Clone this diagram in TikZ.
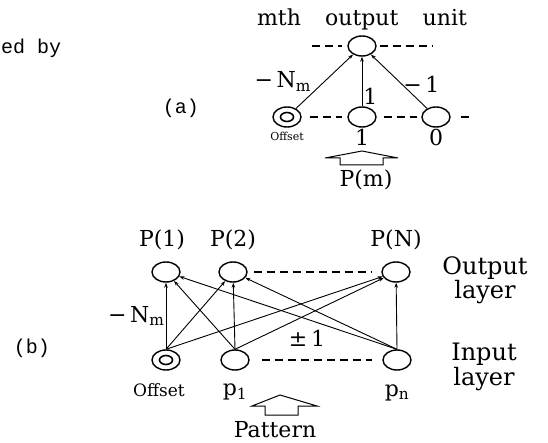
\documentclass[tikz,border=0pt]{standalone}
\usepackage{fontspec}
\setmainfont{DejaVu Serif}
\newfontfamily\typefont{Liberation Mono}
\usetikzlibrary{shapes.geometric, arrows.meta, positioning}

\begin{document}
\begin{tikzpicture}[x=1pt, y=-1pt, >={Stealth[length=5pt, width=3.5pt]},
    every node/.style={font=\fontsize{22}{24}\selectfont, inner sep=1pt},
    unit/.style={ellipse, draw, line width=1.4pt, minimum width=28pt, minimum height=20pt, inner sep=0pt},
    offsetunit/.style={unit, path picture={\draw[line width=1.6pt] (path picture bounding box.center) ellipse (6.5pt and 4.5pt);}},
    link/.style={->, line width=0.9pt},
    dashline/.style={dashed, dash pattern=on 8pt off 5pt, line width=1.2pt},
    fatarrow/.style={draw, line width=1pt, line join=miter},
    typelabel/.style={font=\typefont\fontsize{20}{21}\selectfont}]
    \useasboundingbox (0,0) rectangle (548,443);

    % (a) one output unit
    \node[typelabel, anchor=west, inner sep=0pt] (edby) at (1,48) {ed by};
    \node[typelabel] (alabel) at (181,108) {(a)};

    \node[unit] (atop) at (362,46) {};
    \node[offsetunit] (aoff) at (287,117) {};
    \node[unit] (aone) at (362,117) {};
    \node[unit] (azero) at (436,117) {};
    \node[above=4pt of atop] (acap) {mth\hspace{1.1em}output\hspace{1.1em}unit};

    \coordinate (atl) at (312,46);
    \coordinate (atr) at (433,46);
    \coordinate (abr) at (470,117);
    \draw[dashline, shorten >=5pt] (atl) -- (atop.west);
    \draw[dashline, shorten <=3pt] (atop.east) -- (atr);
    \draw[dashline, shorten <=8pt, shorten >=5pt] (aoff.east) -- (aone.west);
    \draw[dashline, shorten <=7pt, shorten >=4pt] (aone.east) -- (azero.west);
    \draw[dashline, shorten <=10pt] (azero.east) -- (abr);

    \draw[link] (aoff) -- node[left=12pt, pos=0.5] {−\,N\textsubscript{m}} (atop);
    \draw[link] (aone) -- node[right, pos=0.2] {1} (atop);
    \draw[link] (azero) -- node[right, pos=0.45] {−\,1} (atop);

    \node[below=3pt of aoff, font=\fontsize{11}{12}\selectfont] (aofflbl) {Offset};
    \node[below=0pt of aone] (aonelbl) {1};
    \node[below=0pt of azero] (azerolbl) {0};

    \draw[fatarrow] (362,151) -- (325,158) -- (340,158) -- (340,165) -- (383,165) -- (383,158) -- (398,158) -- cycle;
    \node (apm) at (366,180) {P(m)};

    % (b) whole network
    \node[typelabel] (blabel) at (32,348) {(b)};

    \node[unit] (bP1) at (166,272) {};
    \node[unit] (bP2) at (233,272) {};
    \node[unit] (bPN) at (396,272) {};
    \node[offsetunit] (boff) at (166,360) {};
    \node[unit] (bp1) at (235,360) {};
    \node[unit] (bpn) at (397,360) {};

    \node[above=10pt of bP1, xshift=-4pt] (lP1) {P(1)};
    \node[above=10pt of bP2] (lP2) {P(2)};
    \node[above=10pt of bPN] (lPN) {P(N)};

    \draw[dashline, shorten <=6pt, shorten >=10pt] (bP2.east) -- (bPN.west);
    \draw[dashline, shorten <=12pt, shorten >=10pt] (bp1.east) -- (bpn.west);

    \draw[link] (boff.north) -- node[left, pos=0.5] {−\,N\textsubscript{m}} (bP1);
    \draw[link] (boff.north) -- (bP2);
    \draw[link] (boff.north) -- (bPN);
    \draw[link] (bp1.north) -- (bP1);
    \draw[link] (bp1.north) -- (bP2);
    \draw[link] (bp1.north) -- (bPN);
    \draw[link] (bpn.north) -- (bP1);
    \draw[link] (bpn.north) -- (bP2);
    \draw[link] (bpn.north) -- (bPN);
    \node (pmone) at (307,338) {±\,1};

    \node[below=12pt of boff, xshift=-7pt, font=\fontsize{17}{18}\selectfont] (bofflbl) {Offset};
    \node[below=12pt of bp1] (bp1lbl) {p\textsubscript{1}};
    \node[below=13pt of bpn] (bpnlbl) {p\textsubscript{n}};

    \node[align=center, font=\fontsize{24}{19}\selectfont] (outlbl) at (485,280) {Output\\layer};
    \node[align=center, font=\fontsize{24}{25}\selectfont] (inlbl) at (484,367) {Input\\layer};

    \draw[fatarrow] (280,395) -- (252,406) -- (265,406) -- (265,415) -- (298,415) -- (298,406) -- (317,406) -- cycle;
    \node (pattern) at (275,430) {Pattern};
\end{tikzpicture}
\end{document}
